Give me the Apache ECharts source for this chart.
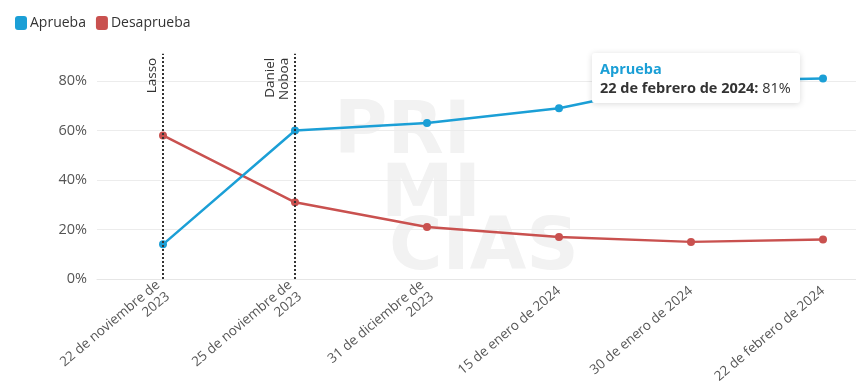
<!DOCTYPE html>
<html lang="es">
<head>
<meta charset="UTF-8">
<title>Aprueba / Desaprueba</title>
<script src="https://cdn.jsdelivr.net/npm/echarts@6/dist/echarts.min.js"></script>
<style>
  html, body { margin: 0; padding: 0; background: #fff; overflow: hidden; }
  /* el grafico original esta recortado a la derecha */
  #container { width: 889px; height: 389px; }
</style>
</head>
<body>
<div id="container"></div>
<script>
// datos
var fechas = ['22 de noviembre de\n2023', '25 de noviembre de\n2023', '31 de diciembre de\n2023',
              '15 de enero de 2024', '30 de enero de 2024', '22 de febrero de 2024'];
var aprueba = [14, 60, 63, 69, 80, 81];
var desaprueba = [58, 31, 21, 17, 15, 16];
var eventos = ['Lasso', 'Daniel\nNoboa'];
var eventoIdx = [0, 1];
var yTicks = [0, 20, 40, 60, 80, 100];

var azul = '#1b9fd6';
var rojo = '#c9514f';
var fuente = '"Open Sans", "Noto Sans", sans-serif';

var myChart = echarts.init(document.getElementById('container'));

var lineasEventos = eventoIdx.map(function (idx, i) {
  return [
    { coord: [idx, 0] },
    { coord: [idx, 91], label: { formatter: eventos[i] } }
  ];
});

var option = {
  animation: false,
  textStyle: { fontFamily: fuente },
  legend: {
    left: 10, top: 11,
    itemWidth: 12, itemHeight: 14, itemGap: 10,
    icon: 'roundRect',
    textStyle: { fontSize: 14, color: '#333', fontFamily: fuente, padding: [0, 0, 0, -2] },
    data: ['Aprueba', 'Desaprueba']
  },
  tooltip: {
    trigger: 'item',
    triggerOn: 'none',
    alwaysShowContent: true,
    transitionDuration: 0,
    position: [592, 53],
    backgroundColor: '#fff',
    borderWidth: 0,
    padding: [6, 9, 6, 8],
    extraCssText: 'box-shadow:0 1px 6px rgba(0,0,0,0.15);border-radius:3px;',
    formatter: function (p) {
      var fecha = p.name.replace('\n', ' ');
      return '<div style="font-family:' + fuente.replace(/"/g, "'") + ';font-size:14.5px;line-height:19px;">' +
        '<b style="color:' + azul + '">' + p.seriesName + '</b><br>' +
        '<span style="color:#333"><b>' + fecha + ':</b> ' + p.value + '%</span></div>';
    }
  },
  graphic: [
    { type: 'text', left: 334, top: 98, z: -10, silent: true,
      style: { text: 'PRI', font: 'bold 73px "DejaVu Sans", sans-serif', fill: '#f2f2f2' } },
    { type: 'text', left: 381, top: 161, z: -10, silent: true,
      style: { text: 'MI', font: 'bold 73px "DejaVu Sans", sans-serif', fill: '#f2f2f2' } },
    { type: 'text', left: 389, top: 214, z: -10, silent: true,
      style: { text: 'CIAS', font: 'bold 73px "DejaVu Sans", sans-serif', fill: '#f2f2f2' } }
  ],
  grid: { left: 97, right: 0, top: 31.5, bottom: 110 },
  xAxis: {
    type: 'category',
    boundaryGap: true,
    data: fechas,
    axisLine: { lineStyle: { color: '#e6e6e6' } },
    axisTick: { show: false },
    axisLabel: {
      rotate: 40, interval: 0, margin: 10,
      color: '#555', fontSize: 13.5, lineHeight: 15, fontFamily: fuente, align: 'right'
    }
  },
  yAxis: {
    type: 'value',
    min: yTicks[0], max: yTicks[yTicks.length - 1], interval: 20,
    axisLine: { show: false },
    axisTick: { show: false },
    axisLabel: {
      margin: 10, color: '#555', fontSize: 14.5, fontFamily: fuente,
      showMaxLabel: false,
      formatter: '{value}%'
    },
    splitLine: { showMaxLine: false, lineStyle: { color: '#ececec' } }
  },
  series: [
    {
      name: 'Aprueba', type: 'line', data: aprueba,
      color: azul,
      symbol: 'circle', symbolSize: 8,
      lineStyle: { width: 2.5 },
      z: 3,
      markLine: {
        silent: true, symbol: 'none',
        lineStyle: { color: '#333', type: [2, 2], width: 2 },
        label: {
          position: 'insideEndTop', color: '#333', fontSize: 13.5,
          fontFamily: fuente, lineHeight: 14, distance: 4
        },
        data: lineasEventos
      }
    },
    {
      name: 'Desaprueba', type: 'line', data: desaprueba,
      color: rojo,
      symbol: 'circle', symbolSize: 8,
      lineStyle: { width: 2.5 },
      z: 2
    }
  ]
};

myChart.setOption(option);
myChart.dispatchAction({ type: 'showTip', seriesIndex: 0, dataIndex: 5 });
</script>
</body>
</html>
